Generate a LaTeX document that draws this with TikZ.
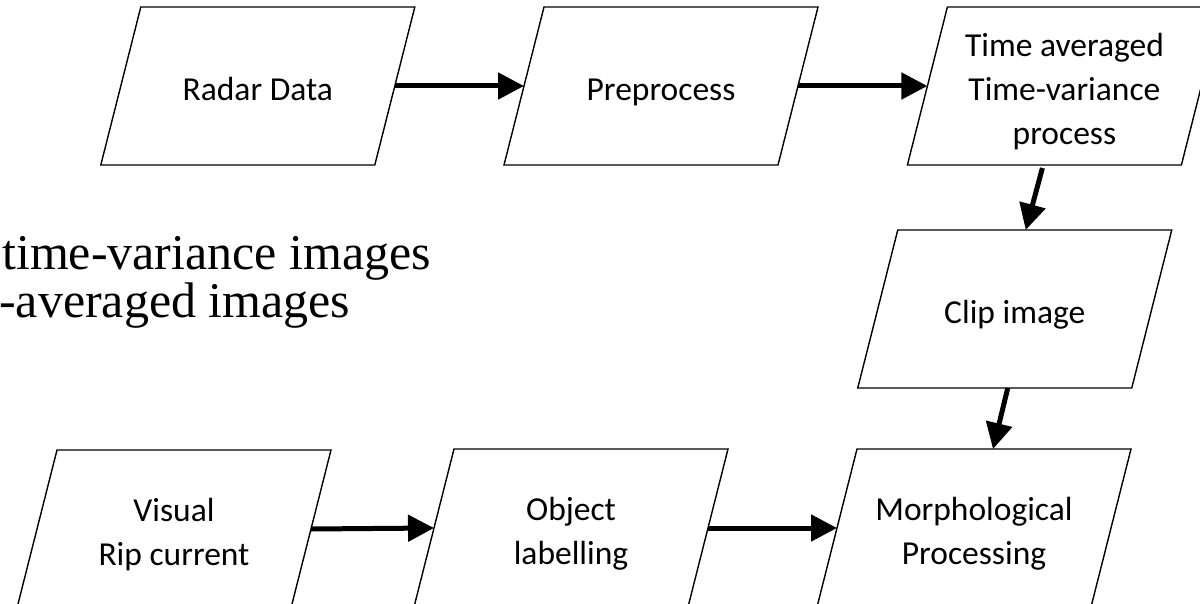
\documentclass[tikz,border=0pt]{standalone}
\usepackage{fontspec}
\setmainfont{Carlito}
\newfontfamily\timesfont{Liberation Serif}
\usepackage{tikz}
\usetikzlibrary{arrows.meta}
\newcommand{\bstrut}{\rule[-7pt]{0pt}{43pt}}

\begin{document}
\begin{tikzpicture}[x=1pt, y=-1pt]
\tikzset{datanode/.style={minimum width=274pt, minimum height=158pt, inner sep=0pt, outer sep=0pt, align=center, font=\fontsize{33.5}{42.5}\selectfont}}
\tikzset{boxline/.style={draw, line width=1.4pt, line join=miter}}
\tikzset{flow/.style={line width=5pt, -{Triangle[length=26pt,width=26pt]}}}
\tikzset{slidetext/.style={anchor=base west, inner sep=0pt, font=\timesfont\fontsize{50}{60}\selectfont}}

\useasboundingbox (0,0) rectangle (1200,604);
\clip (0,0) rectangle (1200,604);

\node[slidetext] (tvimg) at (2,270) {time-variance images};
\node[slidetext] (avimg) at (-1,317) {-averaged images};

\node[datanode] (radar) at (257.8,86) {\bstrut Radar Data};
\node[datanode] (prep) at (661,86) {\bstrut Preprocess};
\node[datanode] (tavg) at (1064.4,86) {\bstrut Time averaged\\\bstrut Time-variance\\\bstrut process};
\node[datanode] (clipimg) at (1014.75,309) {\bstrut Clip image};
\node[datanode] (visual) at (174,529) {\bstrut Visual\\\bstrut Rip current};
\node[datanode] (objlab) at (571,528) {\bstrut Object\\\bstrut labelling};
\node[datanode] (morph) at (974,528) {\bstrut Morphological\\\bstrut Processing};

% slanted outlines round the boxes
\foreach \n in {radar,prep,tavg,clipimg,visual,objlab,morph}
  \draw[boxline] ([xshift=20pt]\n.north west) -- ([xshift=20pt]\n.north east)
    -- ([xshift=-20pt]\n.south east) -- ([xshift=-20pt]\n.south west) -- cycle;

\draw[flow] (radar.east) -- (prep.west);
\draw[flow] (prep.east) -- (tavg.west);
\draw[flow] ([xshift=-22pt,yshift=-3pt]tavg.south) -- ([xshift=11pt]clipimg.north);
\draw[flow] ([xshift=-7pt]clipimg.south) -- ([xshift=19pt]morph.north);
\draw[flow] (visual.east) -- (objlab.west);
\draw[flow] (objlab.east) -- (morph.west);

\end{tikzpicture}
\end{document}
